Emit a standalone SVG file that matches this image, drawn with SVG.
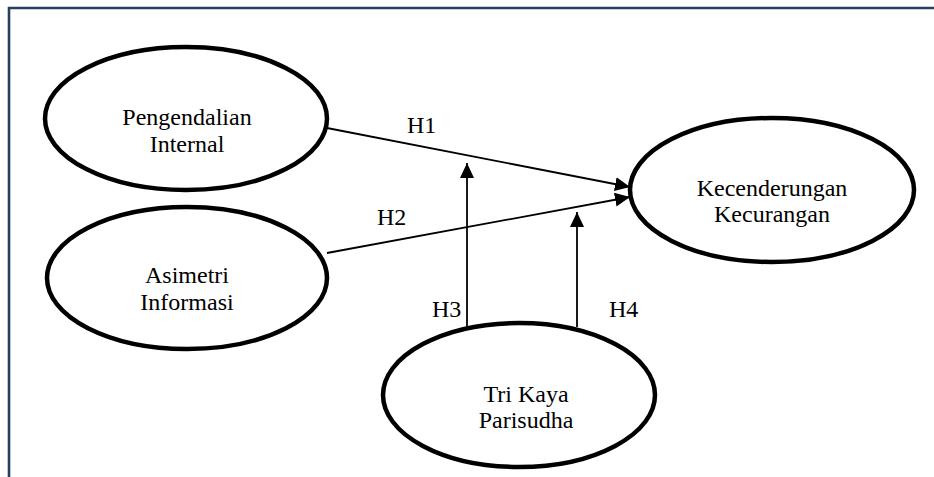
<svg xmlns="http://www.w3.org/2000/svg" width="934" height="477" viewBox="0 0 934 477">
<style>
.node{fill:#fff;stroke:#000;stroke-width:4.5}
.lbl{font-family:"Liberation Serif","Times New Roman",Times,serif;font-size:24px;fill:#000;text-anchor:middle}
.hl{font-family:"Liberation Serif","Times New Roman",Times,serif;font-size:24px;fill:#000}
.edge{stroke:#000;stroke-width:1.8;fill:none;marker-end:url(#arr)}
.frame{stroke:#253f5e;stroke-width:2.6;fill:none}
</style>
<defs>
<marker id="arr" markerWidth="16" markerHeight="14" refX="15" refY="7" orient="auto" markerUnits="userSpaceOnUse">
<path d="M0,0 L15,7 L0,14 Z" fill="#000"/>
</marker>
</defs>
<rect width="934" height="477" fill="#fff"/>
<path class="frame" d="M9,477 L9,8 L934,8"/>
<g id="connectors">
<line class="edge" x1="327" y1="128" x2="630" y2="187"/>
<line class="edge" x1="327" y1="253" x2="630" y2="197"/>
<line class="edge" x1="467" y1="327" x2="467" y2="163"/>
<line class="edge" x1="577" y1="327" x2="577" y2="212"/>
<text class="hl" x="407" y="133">H1</text>
<text class="hl" x="377" y="225">H2</text>
<text class="hl" x="432" y="317">H3</text>
<text class="hl" x="609" y="317">H4</text>
</g>
<g id="pengendalian">
<ellipse class="node" cx="186" cy="118.5" rx="141" ry="71.5"/>
<text class="lbl" x="187" y="125">Pengendalian</text>
<text class="lbl" x="187" y="152">Internal</text>
</g>
<g id="asimetri">
<ellipse class="node" cx="187" cy="278" rx="140" ry="71"/>
<text class="lbl" x="187" y="283">Asimetri</text>
<text class="lbl" x="187" y="310">Informasi</text>
</g>
<g id="kecenderungan">
<ellipse class="node" cx="772" cy="190" rx="142" ry="72"/>
<text class="lbl" x="772" y="196">Kecenderungan</text>
<text class="lbl" x="772" y="222">Kecurangan</text>
</g>
<g id="trikaya">
<ellipse class="node" cx="519" cy="395" rx="136" ry="72"/>
<text class="lbl" x="526" y="402">Tri Kaya</text>
<text class="lbl" x="526" y="428">Parisudha</text>
</g>
</svg>
